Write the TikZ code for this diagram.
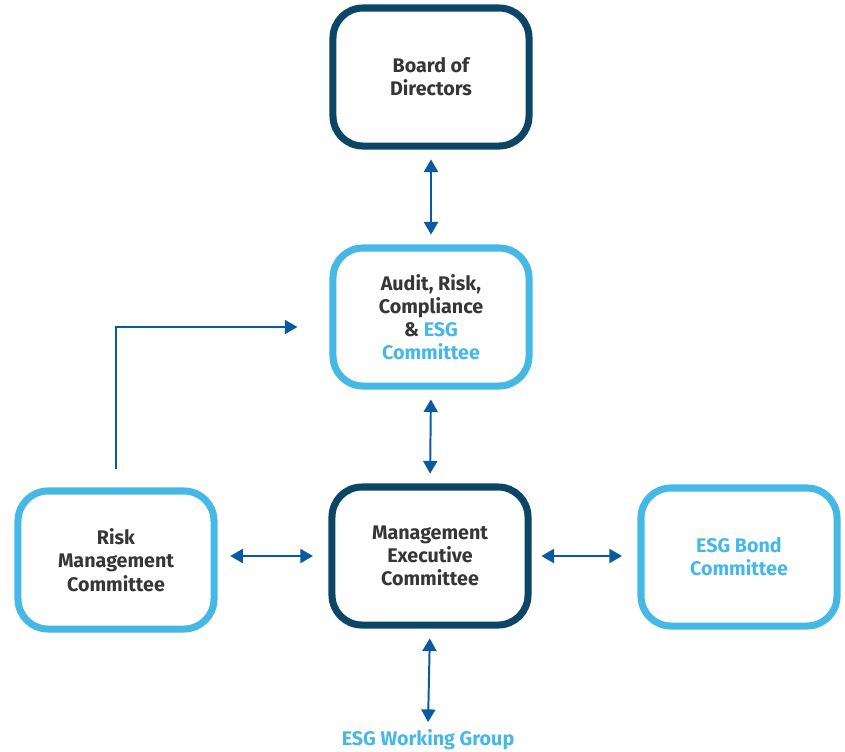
\documentclass[tikz,border=0pt]{standalone}
\usepackage{fontspec}
\setmainfont{Fira Sans}
\usepackage{xcolor}
\usetikzlibrary{arrows.meta}

\definecolor{navy}{HTML}{0B4667}
\definecolor{sky}{HTML}{45B8E6}
\definecolor{linkblue}{HTML}{0A5AA3}
\definecolor{txt}{HTML}{363636}

\tikzset{
  unit/.style={draw, line width=5pt, rounded corners=0.75cm, minimum width=4.9cm,
    minimum height=3.45cm, align=center, font=\bfseries\fontsize{14}{16.5}\selectfont, text=txt, fill=white},
  darkunit/.style={unit, draw=navy},
  lightunit/.style={unit, draw=sky},
  link/.style={draw=linkblue, line width=1.4pt, {Triangle[length=9pt,width=10pt]}-{Triangle[length=9pt,width=10pt]}},
  onelink/.style={draw=linkblue, line width=1.4pt, -{Triangle[length=9pt,width=10pt]}}
}

\begin{document}
\begin{tikzpicture}[x=0.025cm,y=-0.025cm]
\useasboundingbox (0,0) rectangle (845,751);

% boxes
\node[darkunit] (board) at (431,77) {Board of\\Directors};
\node[lightunit] (audit) at (431,317) {Audit, Risk,\\Compliance\\\& \textcolor{sky}{ESG}\\\textcolor{sky}{Committee}};
\node[darkunit] (mec) at (430,556) {Management\\Executive\\Committee};
\node[lightunit] (risk) at (116,560) {Risk\\Management\\Committee};
\node[lightunit, text=sky] (bond) at (739,557) {ESG Bond\\Committee};
\node[font=\bfseries\fontsize{14}{16.5}\selectfont, text=sky] (wg) at (428,740) {ESG Working Group};

% arrows
\draw[link, shorten <=7pt, shorten >=7pt] (board.south) -- (audit.north);
\draw[link, shorten <=7pt, shorten >=7pt] (audit.south) -- (mec.north);
\draw[link, shorten <=7pt, shorten >=2pt] (mec.south) -- (wg.north);
\draw[link, shorten <=9pt, shorten >=11pt] (risk.east |- mec.west) -- (mec.west);
\draw[link, shorten <=7pt, shorten >=11pt] (mec.east) -- (bond.west |- mec.east);
\draw[onelink] ([yshift=0.45cm]risk.north) |- ([xshift=-0.8cm,yshift=-0.25cm]audit.west);
\end{tikzpicture}
\end{document}
